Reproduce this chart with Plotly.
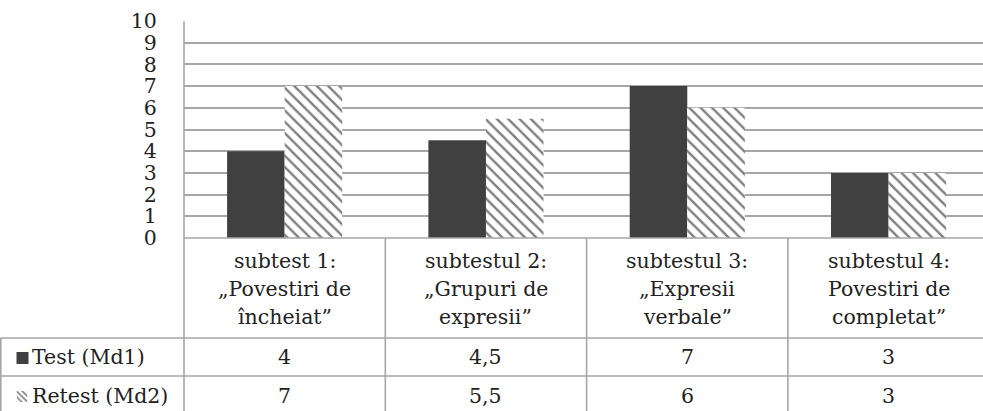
import plotly.graph_objects as go

# Data
categories = [
    ["subtest 1:", "„Povestiri de", "încheiat”"],
    ["subtestul 2:", "„Grupuri de", "expresii”"],
    ["subtestul 3:", "„Expresii", "verbale”"],
    ["subtestul 4:", "Povestiri de", "completat”"],
]
series_names = ["Test (Md1)", "Retest (Md2)"]
test_values = [4, 4.5, 7, 3]
retest_values = [7, 5.5, 6, 3]
y_ticks = list(range(0, 11))

W, H = 983, 411
FONT = "DejaVu Serif"
GRID = "#a6a6a6"
DARK = "#404040"
TEXT = "#222222"
TSIZE = 20.5

def px(x):
    return x / W

def py(y):
    return 1 - y / H

def fmt(v):
    return f"{v:g}".replace(".", ",")

xpos = list(range(len(categories)))

fig = go.Figure()
fig.add_trace(go.Bar(
    x=xpos, y=test_values, name=series_names[0],
    marker=dict(color=DARK, line=dict(width=0)),
))
fig.add_trace(go.Bar(
    x=xpos, y=retest_values, name=series_names[1],
    marker=dict(color="white", line=dict(width=0),
                pattern=dict(shape="\\", fgcolor="black", bgcolor="white",
                             size=8, solidity=0.3)),
))
# small patterned swatch used as the Retest row key
fig.add_trace(go.Bar(
    x=[0], y=[1], width=[1], xaxis="x2", yaxis="y2",
    marker=dict(color="white", line=dict(width=0),
                pattern=dict(shape="\\", fgcolor="black", bgcolor="white",
                             size=4, solidity=0.4)),
))

plot_left, plot_top, plot_bottom = 184, 21, 238
hdr_bottom, row1_bottom = 338, 376

shapes = []
line = dict(color=GRID, width=1.6)
# baseline under the bars and the table's horizontal rules
shapes.append(dict(type="line", xref="paper", yref="paper",
                   x0=px(plot_left), x1=1, y0=py(plot_bottom), y1=py(plot_bottom), line=line))
for yy in (hdr_bottom, row1_bottom):
    shapes.append(dict(type="line", xref="paper", yref="paper",
                       x0=px(0.5), x1=1, y0=py(yy), y1=py(yy), line=line))
# vertical rules
shapes.append(dict(type="line", xref="paper", yref="paper",
                   x0=px(plot_left), x1=px(plot_left), y0=py(plot_top), y1=0, line=line))
shapes.append(dict(type="line", xref="paper", yref="paper",
                   x0=px(0.8), x1=px(0.8), y0=py(hdr_bottom), y1=0, line=line))
for b in (0.5, 1.5, 2.5):
    shapes.append(dict(type="line", xref="x", yref="paper",
                       x0=b, x1=b, y0=py(plot_bottom), y1=0, line=line))
# Test row key swatch
shapes.append(dict(type="rect", xref="paper", yref="paper",
                   x0=px(16.5), x1=px(28.5), y0=py(364), y1=py(352),
                   fillcolor=DARK, line=dict(width=0)))

annotations = []
line_y = [261, 289, 317]
for i, lines in enumerate(categories):
    for j, t in enumerate(lines):
        annotations.append(dict(x=i, xref="x", y=py(line_y[j]), yref="paper",
                                text=t, showarrow=False, xanchor="center", yanchor="middle",
                                font=dict(family=FONT, size=TSIZE, color=TEXT)))
    annotations.append(dict(x=i, xref="x", y=py(357), yref="paper",
                            text=fmt(test_values[i]), showarrow=False,
                            xanchor="center", yanchor="middle",
                            font=dict(family=FONT, size=TSIZE, color=TEXT)))
    annotations.append(dict(x=i, xref="x", y=py(396), yref="paper",
                            text=fmt(retest_values[i]), showarrow=False,
                            xanchor="center", yanchor="middle",
                            font=dict(family=FONT, size=TSIZE, color=TEXT)))
for name, yy in zip(series_names, (357, 396)):
    annotations.append(dict(x=px(30), xref="paper", y=py(yy), yref="paper",
                            text=name, showarrow=False, xanchor="left", yanchor="middle",
                            font=dict(family=FONT, size=TSIZE, color=TEXT)))

fig.update_layout(
    width=W, height=H, autosize=False,
    margin=dict(l=0, r=0, t=0, b=0, pad=0, autoexpand=False),
    paper_bgcolor="white", plot_bgcolor="white",
    showlegend=False,
    barmode="group", bargap=0.428, bargroupgap=0,
    font=dict(family=FONT, size=TSIZE, color=TEXT),
    xaxis=dict(domain=[px(plot_left), 1], range=[-0.5, 3.469],
               showticklabels=False, showgrid=False, zeroline=False,
               showline=False, ticks="", fixedrange=True, automargin=False),
    yaxis=dict(domain=[py(plot_bottom), py(plot_top)], range=[0, 10],
               tickvals=y_ticks, ticktext=[str(v) for v in y_ticks],
               showgrid=True, gridcolor=GRID, gridwidth=1.6,
               zeroline=False, showline=False, automargin=False,
               ticks="outside", ticklen=22, tickcolor="rgba(0,0,0,0)",
               tickfont=dict(family=FONT, size=20.5, color=TEXT)),
    xaxis2=dict(domain=[px(16.5), px(27.5)], range=[-0.5, 0.5], visible=False,
                anchor="y2", automargin=False),
    yaxis2=dict(domain=[py(402), py(391)], range=[0, 1], visible=False,
                anchor="x2", automargin=False),
    shapes=shapes,
    annotations=annotations,
)

fig.write_html("out.html")
